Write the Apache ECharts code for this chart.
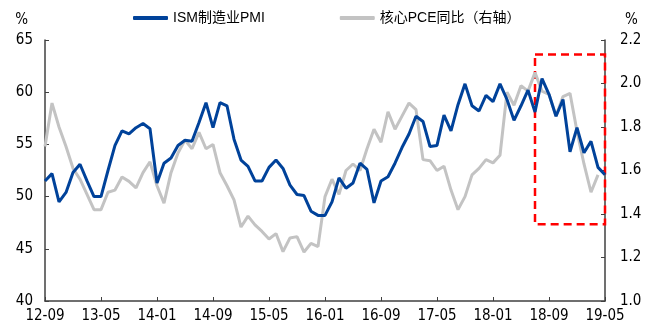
<!DOCTYPE html>
<html>
<head>
<meta charset="utf-8">
<script src="https://cdn.jsdelivr.net/npm/echarts@6/dist/echarts.min.js"></script>
<style>
  html, body { margin: 0; padding: 0; background: #ffffff; }
  #chart { width: 651px; height: 332px; }
</style>
</head>
<body>
<div id="chart"></div>
<script>
// Months from 2012-09 to 2019-05
const months = [];
for (let y = 12; y <= 19; y++) {
  for (let m = 1; m <= 12; m++) {
    if ((y === 12 && m < 9) || (y === 19 && m > 5)) continue;
    months.push(y + '-' + (m < 10 ? '0' + m : '' + m));
  }
}

// ISM manufacturing PMI (left axis, %)
const ismPmi = [
  51.5, 52.2, 49.5, 50.4, 52.3, 53.1, 51.5, 50.0, 50.0, 52.5,
  54.9, 56.3, 56.0, 56.6, 57.0, 56.5, 51.3, 53.2, 53.7, 54.9,
  55.4, 55.3, 57.1, 59.0, 56.6, 59.0, 58.7, 55.5, 53.5, 52.9,
  51.5, 51.5, 52.8, 53.5, 52.7, 51.1, 50.2, 50.1, 48.6, 48.2,
  48.2, 49.5, 51.8, 50.8, 51.3, 53.2, 52.6, 49.4, 51.5, 51.9,
  53.2, 54.7, 56.0, 57.7, 57.2, 54.8, 54.9, 57.8, 56.3, 58.8,
  60.8, 58.7, 58.2, 59.7, 59.1, 60.8, 59.3, 57.3, 58.7, 60.2,
  58.1, 61.3, 59.8, 57.7, 59.3, 54.3, 56.6, 54.2, 55.3, 52.8,
  52.1
];

// Core PCE, year on year (right axis, %); latest month not yet released
const corePce = [
  1.71, 1.91, 1.80, 1.71, 1.61, 1.56, 1.49, 1.42, 1.42, 1.50,
  1.51, 1.57, 1.55, 1.52, 1.59, 1.64, 1.53, 1.45, 1.59, 1.68,
  1.74, 1.70, 1.775, 1.70, 1.72, 1.59, 1.53, 1.465, 1.34, 1.39,
  1.35, 1.32, 1.285, 1.31, 1.227, 1.29, 1.296, 1.225, 1.265, 1.25,
  1.48, 1.56, 1.49, 1.60, 1.63, 1.60, 1.70, 1.79, 1.73, 1.87,
  1.79, 1.85, 1.91, 1.88, 1.65, 1.645, 1.60, 1.62, 1.51, 1.42,
  1.48, 1.58, 1.61, 1.65, 1.635, 1.67, 1.96, 1.90, 1.99, 1.965,
  2.05, 1.965, 1.95, 1.85, 1.94, 1.955, 1.78, 1.63, 1.50, 1.58,
  null
];

// Highlighted recent window
const boxStart = '18-07';
const boxEnd = '19-05';
const boxTop = 63.6;
const boxBottom = 47.35;

const seriesNames = ['ISM制造业PMI', '核心PCE同比（右轴）'];

const labelFont = 'DejaVu Sans Condensed, DejaVu Sans, sans-serif';
const cjkFont = 'Liberation Sans, Noto Sans CJK SC, sans-serif';
const axisColor = '#404040';

const chart = echarts.init(document.getElementById('chart'), null, { renderer: 'canvas' });

chart.setOption({
  animation: false,
  backgroundColor: '#ffffff',
  grid: { left: 45, right: 46, top: 40, bottom: 31, containLabel: false },
  legend: {
    top: 6,
    left: 128,
    itemGap: 75,
    itemWidth: 35,
    itemHeight: 4,
    icon: 'roundRect',
    textStyle: { fontFamily: cjkFont, fontSize: 14, color: '#000000' },
    data: seriesNames
  },
  xAxis: {
    type: 'category',
    data: months,
    boundaryGap: false,
    axisLine: { lineStyle: { color: axisColor, width: 1.5 } },
    axisTick: { inside: true, length: 4, interval: 7, lineStyle: { color: axisColor } },
    axisLabel: { interval: 7, color: '#000000', fontFamily: labelFont, fontSize: 15, margin: 8 },
    splitLine: { show: false }
  },
  yAxis: [
    {
      type: 'value', min: 40, max: 65, interval: 5,
      name: '%', nameLocation: 'end', nameGap: 12,
      nameTextStyle: { color: '#000000', fontFamily: labelFont, fontSize: 15, align: 'right', padding: [0, 17, 0, 0] },
      axisLine: { show: true, lineStyle: { color: axisColor, width: 1.5 } },
      axisTick: { show: true, inside: true, length: 4, lineStyle: { color: axisColor } },
      axisLabel: { color: '#000000', fontFamily: labelFont, fontSize: 15, margin: 12 },
      splitLine: { show: false }
    },
    {
      type: 'value', min: 1.0, max: 2.2, interval: 0.2,
      name: '%', nameLocation: 'end', nameGap: 12,
      nameTextStyle: { color: '#000000', fontFamily: labelFont, fontSize: 15, align: 'left', padding: [0, 0, 0, 20] },
      axisLine: { show: true, lineStyle: { color: axisColor, width: 1.5 } },
      axisTick: { show: true, inside: true, length: 4, lineStyle: { color: axisColor } },
      axisLabel: { color: '#000000', fontFamily: labelFont, fontSize: 15, margin: 15, formatter: v => v.toFixed(1) },
      splitLine: { show: false }
    }
  ],
  series: [
    {
      name: seriesNames[1],
      type: 'line',
      yAxisIndex: 1,
      data: corePce,
      symbol: 'none',
      lineStyle: { color: '#c3c3c3', width: 3 },
      itemStyle: { color: '#c3c3c3' },
      z: 2
    },
    {
      name: seriesNames[0],
      type: 'line',
      yAxisIndex: 0,
      data: ismPmi,
      symbol: 'none',
      lineStyle: { color: '#00429a', width: 3 },
      itemStyle: { color: '#00429a' },
      z: 3,
      markArea: {
        silent: true,
        itemStyle: { color: 'rgba(0,0,0,0)', borderColor: '#ff0000', borderWidth: 2.5, borderType: [8, 5] },
        data: [[{ xAxis: boxStart, yAxis: boxTop }, { xAxis: boxEnd, yAxis: boxBottom }]]
      }
    }
  ]
});
</script>
</body>
</html>
